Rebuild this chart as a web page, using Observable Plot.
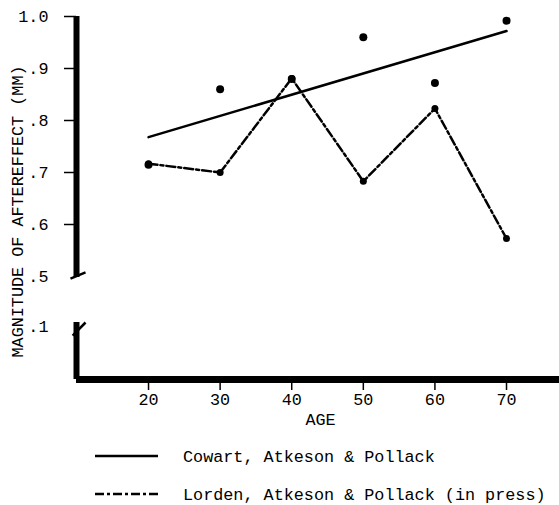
<!DOCTYPE html>
<html>
<head>
<meta charset="utf-8">
<script src="https://cdn.jsdelivr.net/npm/d3@7"></script>
<script src="https://cdn.jsdelivr.net/npm/@observablehq/plot@0.6"></script>
<style>
  html, body { margin: 0; padding: 0; background: #fff; }
  #wrap { position: relative; width: 559px; height: 505px; font-family: "Liberation Mono", "DejaVu Sans Mono", monospace; color: #000; }
  #chart svg { display: block; }
  .leg-line { position: absolute; }
  .leg-text { position: absolute; font-size: 16.8px; line-height: 20px; white-space: pre; }
</style>
</head>
<body>
<div id="wrap">
  <div id="chart"></div>
</div>
<script>
// ---- data ----
const ages = [20, 30, 40, 50, 60, 70];
const cowartValues = [0.715, 0.86, 0.88, 0.96, 0.872, 0.992];
const lordenValues = [0.717, 0.70, 0.881, 0.683, 0.823, 0.573];
const cowartFitAges = [20, 70];
const cowartFitValues = [0.768, 0.972];
const seriesNames = ["Cowart, Atkeson & Pollack", "Lorden, Atkeson & Pollack (in press)"];
const yTickValues = [1.0, 0.9, 0.8, 0.7, 0.6];
const yTickLabels = ["1.0", ".9", ".8", ".7", ".6"];
const yBreakTickValues = [0.5, 0.1];
const yBreakTickLabels = [".5", ".1"];
const xTickValues = [20, 30, 40, 50, 60, 70];
const xTickLabels = ["20", "30", "40", "50", "60", "70"];
const yAxisLabel = "MAGNITUDE OF AFTEREFFECT (MM)";
const xAxisLabel = "AGE";

// ---- tables ----
const cowart = ages.map((a, i) => ({age: a, value: cowartValues[i]}));
const lorden = ages.map((a, i) => ({age: a, value: lordenValues[i]}));
const cowartFit = cowartFitAges.map((a, i) => ({age: a, value: cowartFitValues[i]}));

// broken value axis: 0–0.1 and 0.5–1.0 at full scale, 0.1–0.5 compressed
const breakTransform = d3.scaleLinear().domain([0, 0.1, 0.5, 1.0]).range([0, 53, 103, 363]);

const xMin = 9.94;
const axisSegments = [{y1: 1.0, y2: 0.492}, {y1: 0.132, y2: 0}];
const breakSlashes = [
  {x1: 9.1, y1: 0.483, x2: 11.2, y2: 0.508},
  {x1: 9.4, y1: 0.083, x2: 11.2, y2: 0.132}
];

const chart = Plot.plot({
  width: 559,
  height: 430,
  marginLeft: 76,
  marginRight: 0,
  marginTop: 16,
  marginBottom: 51,
  style: {fontFamily: "Liberation Mono", fontSize: "16.8px", color: "black", background: "white"},
  x: {domain: [xMin, 77.4]},
  y: {transform: v => breakTransform(v), domain: [0, 363], range: [379, 16]},
  marks: [
    // value axis
    Plot.axisY(yTickValues, {tickSize: 12, tickPadding: 16, strokeWidth: 1.5,
      tickFormat: d => yTickLabels[yTickValues.indexOf(d)], label: null}),
    Plot.axisY(yBreakTickValues, {tickSize: 0, tickPadding: 28,
      tickFormat: d => yBreakTickLabels[yBreakTickValues.indexOf(d)], label: null}),
    Plot.ruleX(axisSegments, {x: () => xMin, y1: "y1", y2: "y2", strokeWidth: 6, stroke: "black"}),
    Plot.link(breakSlashes, {x1: "x1", y1: "y1", x2: "x2", y2: "y2", strokeWidth: 2.5, stroke: "black"}),
    Plot.text([yAxisLabel], {text: d => d, frameAnchor: "left", rotate: -90, dx: -59, dy: 13.5,
      textAnchor: "middle", lineAnchor: "middle", style: {letterSpacing: "0.6px"}}),
    // age axis
    Plot.axisX(xTickValues, {tickSize: 11, tickPadding: 3, strokeWidth: 1.5,
      tickFormat: d => xTickLabels[xTickValues.indexOf(d)], label: null}),
    Plot.ruleY([0], {strokeWidth: 7, stroke: "black"}),
    Plot.text([xAxisLabel], {text: d => d, frameAnchor: "bottom", dx: 2.5, dy: 40, lineAnchor: "middle"}),
    // series
    Plot.line(cowartFit, {x: "age", y: "value", stroke: "black", strokeWidth: 2.5}),
    Plot.line(lorden, {x: "age", y: "value", stroke: "black", strokeWidth: 2.5, strokeDasharray: "9,3,3,3"}),
    Plot.dot(cowart, {x: "age", y: "value", r: 4, fill: "black"}),
    Plot.dot(lorden, {x: "age", y: "value", r: 3.5, fill: "black"})
  ]
});
document.getElementById("chart").appendChild(chart);

// ---- legend (below the plot) ----
const wrap = document.getElementById("wrap");
const legendRows = [
  {name: seriesNames[0], dash: null, lineTop: 450.5, textTop: 448},
  {name: seriesNames[1], dash: "9,3,3,3", lineTop: 488.5, textTop: 486}
];
legendRows.forEach(r => {
  const ns = "http://www.w3.org/2000/svg";
  const s = document.createElementNS(ns, "svg");
  s.setAttribute("width", 64); s.setAttribute("height", 10);
  s.setAttribute("class", "leg-line");
  s.style.left = "95px"; s.style.top = r.lineTop + "px";
  const l = document.createElementNS(ns, "line");
  l.setAttribute("x1", 0); l.setAttribute("x2", 63); l.setAttribute("y1", 5); l.setAttribute("y2", 5);
  l.setAttribute("stroke", "black"); l.setAttribute("stroke-width", 2.5);
  if (r.dash) l.setAttribute("stroke-dasharray", r.dash);
  s.appendChild(l);
  wrap.appendChild(s);
  const t = document.createElement("div");
  t.className = "leg-text";
  t.style.left = "183px"; t.style.top = r.textTop + "px";
  t.textContent = r.name;
  wrap.appendChild(t);
});
</script>
</body>
</html>
